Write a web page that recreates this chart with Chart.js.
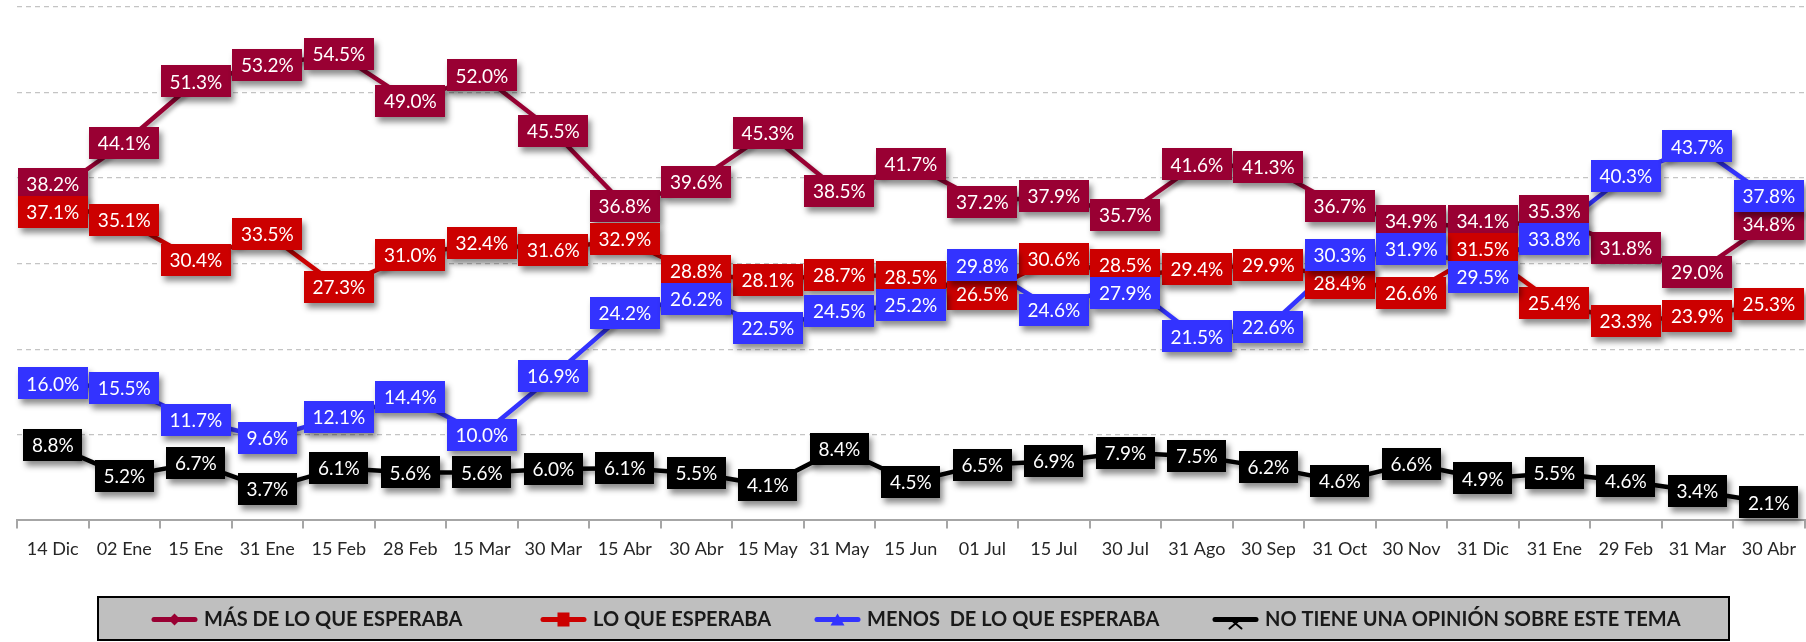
<!DOCTYPE html>
<html>
<head>
<meta charset="utf-8">
<title>Expectativas</title>
<script src="https://cdn.jsdelivr.net/npm/chart.js@4.4.1/dist/chart.umd.min.js"></script>
<style>
  html, body { margin: 0; padding: 0; background: #fff; }
  #wrap { width: 1806px; height: 642px; }
</style>
</head>
<body>
<div id="wrap"><canvas id="chart" width="1806" height="642"></canvas></div>
<script>
// fechas de medicion
const fechas = ['14 Dic', '02 Ene', '15 Ene', '31 Ene', '15 Feb', '28 Feb', '15 Mar', '30 Mar', '15 Abr',
  '30 Abr', '15 May', '31 May', '15 Jun', '01 Jul', '15 Jul', '30 Jul', '31 Ago', '30 Sep', '31 Oct',
  '30 Nov', '31 Dic', '31 Ene', '29 Feb', '31 Mar', '30 Abr'];

const masDeLo = [38.2, 44.1, 51.3, 53.2, 54.5, 49.0, 52.0, 45.5, 36.8, 39.6, 45.3, 38.5, 41.7,
  37.2, 37.9, 35.7, 41.6, 41.3, 36.7, 34.9, 34.1, 35.3, 31.8, 29.0, 34.8];
const loQueEsperaba = [37.1, 35.1, 30.4, 33.5, 27.3, 31.0, 32.4, 31.6, 32.9, 28.8, 28.1, 28.7, 28.5,
  26.5, 30.6, 28.5, 29.4, 29.9, 28.4, 26.6, 31.5, 25.4, 23.3, 23.9, 25.3];
const menosDeLo = [16.0, 15.5, 11.7, 9.6, 12.1, 14.4, 10.0, 16.9, 24.2, 26.2, 22.5, 24.5, 25.2,
  29.8, 24.6, 27.9, 21.5, 22.6, 30.3, 31.9, 29.5, 33.8, 40.3, 43.7, 37.8];
const sinOpinion = [8.8, 5.2, 6.7, 3.7, 6.1, 5.6, 5.6, 6.0, 6.1, 5.5, 4.1, 8.4, 4.5,
  6.5, 6.9, 7.9, 7.5, 6.2, 4.6, 6.6, 4.9, 5.5, 4.6, 3.4, 2.1];

const nombres = ['MÁS DE LO QUE ESPERABA', 'LO QUE ESPERABA', 'MENOS  DE LO QUE ESPERABA',
  'NO TIENE UNA OPINIÓN SOBRE ESTE TEMA'];
const yMin = 0, yMax = 60, yStep = 10;

const colores = ['#990033', '#CC0000', '#3333FF', '#000000'];
const marcas = ['diamond', 'square', 'triangle', 'x'];
const FONT = 'Lato, "Open Sans", sans-serif';

// sombra bajo las lineas
const lineShadow = {
  id: 'lineShadow',
  beforeDatasetDraw(chart) {
    const c = chart.ctx;
    c.save();
    c.shadowColor = 'rgba(0,0,0,0.35)';
    c.shadowBlur = 4;
    c.shadowOffsetX = 2;
    c.shadowOffsetY = 3;
  },
  afterDatasetDraw(chart) {
    chart.ctx.restore();
  }
};

// etiquetas en caja; si se pisan en la misma fecha se separan un poco
const boxLabels = {
  id: 'boxLabels',
  afterDatasetsDraw(chart) {
    const ctx = chart.ctx;
    const h = 32, minSep = 28;
    ctx.save();
    ctx.font = '19px ' + FONT;
    ctx.textAlign = 'center';
    ctx.textBaseline = 'middle';

    const boxes = [];
    chart.data.datasets.forEach((ds, i) => {
      chart.getDatasetMeta(i).data.forEach((pt, j) => {
        const txt = ds.data[j].toFixed(1) + '%';
        boxes.push({ i, j, x: pt.x, y: pt.y, txt, color: ds.borderColor,
          w: Math.round(ctx.measureText(txt).width + 17) });
      });
    });

    fechas.forEach((f, j) => {
      const col = boxes.filter(b => b.j === j).sort((a, b) => a.y - b.y);
      for (let it = 0; it < 30; it++) {
        for (let k = 0; k < col.length - 1; k++) {
          const over = minSep - (col[k + 1].y - col[k].y);
          if (over > 0) {
            col[k].y -= over / 2;
            col[k + 1].y += over / 2;
          }
        }
      }
    });

    boxes.forEach(b => {
      ctx.shadowColor = 'rgba(0,0,0,0.45)';
      ctx.shadowBlur = 6;
      ctx.shadowOffsetX = 3;
      ctx.shadowOffsetY = 5;
      ctx.fillStyle = b.color;
      ctx.fillRect(Math.round(b.x - b.w / 2), Math.round(b.y - h / 2), b.w, h);
      ctx.shadowColor = 'transparent';
      ctx.fillStyle = '#ffffff';
      ctx.fillText(b.txt, b.x, b.y + 1);
    });
    ctx.restore();
  }
};

const drawMarker = (ctx, kind, x, y, color) => {
  ctx.fillStyle = color;
  ctx.strokeStyle = color;
  ctx.beginPath();
  if (kind === 'diamond') {
    ctx.moveTo(x, y - 6); ctx.lineTo(x + 6, y); ctx.lineTo(x, y + 6); ctx.lineTo(x - 6, y);
    ctx.closePath(); ctx.fill();
  } else if (kind === 'square') {
    ctx.fillRect(x - 6, y - 7, 12, 14);
  } else if (kind === 'triangle') {
    ctx.moveTo(x, y - 6); ctx.lineTo(x + 7, y + 6); ctx.lineTo(x - 7, y + 6);
    ctx.closePath(); ctx.fill();
  } else {
    ctx.lineWidth = 2;
    ctx.moveTo(x - 6, y - 1); ctx.lineTo(x + 6, y + 9);
    ctx.moveTo(x + 6, y - 1); ctx.lineTo(x - 6, y + 9);
    ctx.stroke();
  }
};

// leyenda en recuadro gris
const boxLegend = {
  id: 'boxLegend',
  afterDraw(chart) {
    const ctx = chart.ctx;
    const left = 98, right = 1729, top = 597, bottom = 640;
    const itemX = [152, 541, 815, 1213];
    const sample = 45, gapText = 7;
    ctx.save();
    ctx.fillStyle = '#BFBFBF';
    ctx.fillRect(left, top, right - left, bottom - top);
    ctx.lineWidth = 2;
    ctx.strokeStyle = '#000000';
    ctx.strokeRect(left, top, right - left, bottom - top);

    ctx.font = 'bold 20px ' + FONT;
    ctx.textBaseline = 'middle';
    ctx.textAlign = 'left';
    const cy = (top + bottom) / 2 + 1;
    chart.data.datasets.forEach((ds, i) => {
      const x = itemX[i];
      ctx.lineWidth = 5;
      ctx.lineCap = 'round';
      ctx.strokeStyle = ds.borderColor;
      ctx.beginPath();
      ctx.moveTo(x + 2, cy);
      ctx.lineTo(x + sample - 2, cy);
      ctx.stroke();
      drawMarker(ctx, marcas[i], x + sample / 2, cy, ds.borderColor);
      ctx.fillStyle = '#1a1a1a';
      ctx.fillText(ds.label, x + sample + gapText, cy);
    });
    ctx.restore();
  }
};

const series = [masDeLo, loQueEsperaba, menosDeLo, sinOpinion];

new Chart(document.getElementById('chart'), {
  type: 'line',
  data: {
    labels: fechas,
    datasets: series.map((vals, i) => ({
      label: nombres[i],
      data: vals,
      borderColor: colores[i],
      backgroundColor: colores[i],
      borderWidth: 4.5,
      pointRadius: 0,
      tension: 0,
      fill: false
    }))
  },
  options: {
    responsive: false,
    animation: false,
    devicePixelRatio: 1,
    layout: { padding: { left: 17, right: 0, top: 7, bottom: 72 } },
    plugins: {
      legend: { display: false },
      tooltip: { enabled: false }
    },
    scales: {
      x: {
        offset: true,
        grid: { offset: true, drawOnChartArea: false, drawTicks: true, tickLength: 8, color: '#A6A6A6', lineWidth: 2 },
        border: { color: '#A6A6A6', width: 2 },
        ticks: { color: '#262626', font: { family: FONT, size: 18 }, padding: 10, maxRotation: 0, autoSkip: false }
      },
      y: {
        min: yMin,
        max: yMax,
        ticks: { display: false, stepSize: yStep },
        grid: {
          drawTicks: false,
          lineWidth: 1.3,
          color: ctx => ctx.tick && ctx.tick.value === 0 ? 'rgba(0,0,0,0)' : '#C4C4C4'
        },
        border: { display: false, dash: [5, 4] }
      }
    }
  },
  plugins: [lineShadow, boxLabels, boxLegend]
});
</script>
</body>
</html>
